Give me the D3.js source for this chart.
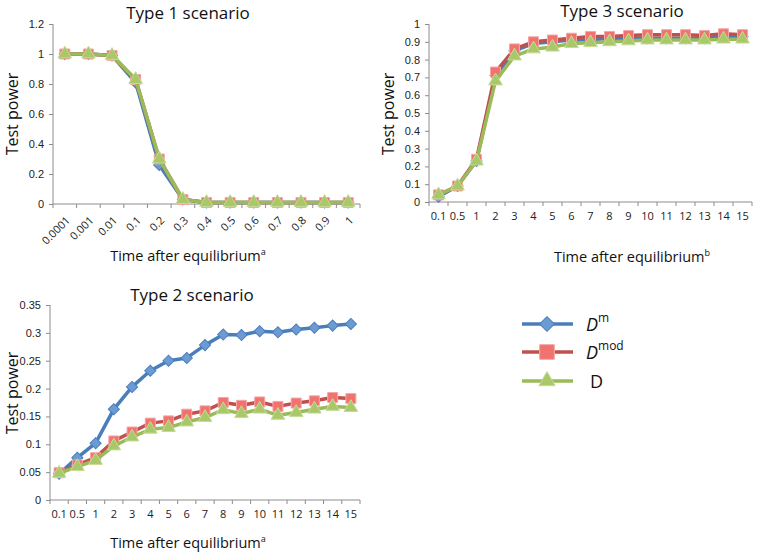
<!DOCTYPE html>
<html><head><meta charset="utf-8">
<script src="https://cdn.jsdelivr.net/npm/d3@7"></script>
<style>body{margin:0;background:#fff}svg{display:block;font-family:"Open Sans",sans-serif}</style>
</head><body><svg id="c" width="757" height="553"></svg>
<script>
const cats1 = ["0.0001","0.001","0.01","0.1","0.2","0.3","0.4","0.5","0.6","0.7","0.8","0.9","1"];
const t1Dm   = [1,1,0.99,0.81,0.26,0.03,0.01,0.01,0.01,0.01,0.01,0.01,0.01];
const t1Dmod = [1,1,0.99,0.83,0.30,0.03,0.01,0.01,0.01,0.01,0.01,0.01,0.01];
const t1D    = [1,1,0.99,0.83,0.30,0.03,0.01,0.01,0.01,0.01,0.01,0.01,0.01];
const yTicks1 = [0,0.2,0.4,0.6,0.8,1,1.2];

const cats23 = ["0.1","0.5","1","2","3","4","5","6","7","8","9","10","11","12","13","14","15"];
const t3Dm   = [0.03,0.09,0.23,0.71,0.85,0.89,0.90,0.91,0.91,0.92,0.92,0.92,0.92,0.92,0.92,0.93,0.93];
const t3Dmod = [0.04,0.09,0.24,0.73,0.86,0.90,0.91,0.92,0.93,0.93,0.935,0.94,0.94,0.94,0.935,0.945,0.94];
const t3D    = [0.04,0.09,0.23,0.68,0.82,0.86,0.87,0.89,0.895,0.90,0.905,0.91,0.91,0.91,0.91,0.915,0.915];
const yTicks3 = [0,0.1,0.2,0.3,0.4,0.5,0.6,0.7,0.8,0.9,1];

const t2Dm   = [0.047,0.076,0.102,0.163,0.203,0.232,0.250,0.255,0.278,0.297,0.296,0.303,0.301,0.306,0.309,0.313,0.316];
const t2Dmod = [0.049,0.063,0.076,0.106,0.122,0.138,0.142,0.154,0.160,0.175,0.170,0.176,0.168,0.174,0.178,0.184,0.182];
const t2D    = [0.048,0.060,0.071,0.097,0.113,0.127,0.130,0.140,0.148,0.162,0.155,0.163,0.152,0.157,0.163,0.168,0.166];
const yTicks2 = [0,0.05,0.1,0.15,0.2,0.25,0.3,0.35];

const seriesNames = ["Dm","Dmod","D"];
const svg = d3.select("#c");

const style = {
  Dm:   {line:"#4a7ebb", fill:"#6b9bd2", stroke:"#4a7ebb", shape:d3.symbolSquare, rot:45, size:62, leg:110},
  Dmod: {line:"#c0504d", fill:"#f0736f", stroke:"#f4a7a5", shape:d3.symbolSquare, rot:0, size:100, leg:215},
  D:    {line:"#9bbb59", fill:"#a9c86a", stroke:"#c6da96", shape:d3.symbolTriangle, rot:0, size:80, leg:115}
};

function panel(o){
  const g = svg.append("g");
  const x = d3.scaleBand().domain(o.cats).range([o.x0,o.x1]);
  const y = d3.scaleLinear().domain([0,o.ymax]).range([o.y0,o.y1]);
  const ya = g.append("g").attr("transform",`translate(${o.x0},0)`)
    .call(d3.axisLeft(y).tickValues(o.yTicks).tickSize(4).tickPadding(5).tickFormat(d=>String(+d.toFixed(2))));
  ya.select(".domain").attr("stroke","#8c8c8c").attr("d",`M-0,${o.y0}V${o.y1}`);
  ya.selectAll(".tick line").attr("stroke","#8c8c8c");
  ya.selectAll("text").attr("font-size",11).attr("fill","#222");
  const xa = g.append("g").attr("transform",`translate(0,${o.y0})`);
  xa.append("line").attr("x1",o.x0).attr("x2",o.x1).attr("stroke","#8c8c8c");
  const bounds = o.cats.map((c,i)=>x(c)).concat([o.x1]);
  xa.selectAll("line.t").data(bounds).join("line").attr("class","t")
    .attr("x1",d=>d).attr("x2",d=>d).attr("y1",0).attr("y2",4).attr("stroke","#8c8c8c");
  const lab = xa.selectAll("text.l").data(o.cats).join("text").attr("class","l")
    .attr("font-size",11).attr("fill","#222").text(d=>d);
  if(o.rotate){
    lab.attr("text-anchor","end")
      .attr("transform",d=>`translate(${x(d)+x.bandwidth()/2+6},${17}) rotate(-45)`);
  } else {
    lab.attr("text-anchor","middle").attr("x",d=>x(d)+x.bandwidth()/2).attr("y",18);
  }
  const data = {Dm:o.Dm, Dmod:o.Dmod, D:o.D};
  const line = d3.line().x((d,i)=>x(o.cats[i])+x.bandwidth()/2).y(d=>y(d));
  seriesNames.forEach(s=>{
    const st = style[s];
    g.append("path").datum(data[s]).attr("d",line).attr("fill","none")
      .attr("stroke",st.line).attr("stroke-width",3.5).attr("stroke-linejoin","round");
    const sym = d3.symbol().type(st.shape).size(st.size);
    g.selectAll(null).data(data[s]).join("path")
      .attr("transform",(d,i)=>`translate(${x(o.cats[i])+x.bandwidth()/2},${y(d)}) rotate(${st.rot})`)
      .attr("d",sym).attr("fill",st.fill).attr("stroke",st.stroke).attr("stroke-width",1);
  });
  g.append("text").attr("x",o.tx).attr("y",o.ty).attr("text-anchor","middle")
    .attr("font-size",17).attr("fill","#111").text(o.title);
  g.append("text").attr("transform",`translate(${o.ylx},${o.yly}) rotate(-90)`)
    .attr("text-anchor","middle").attr("font-size",16).attr("fill","#111").text("Test power");
  const xl = g.append("text").attr("x",o.xlx).attr("y",o.xly).attr("text-anchor","middle")
    .attr("font-size",14.5).attr("fill","#111");
  xl.append("tspan").text("Time after equilibrium");
  xl.append("tspan").attr("dy",-6).attr("font-size",9).text(o.sup);
}

panel({cats:cats1, Dm:t1Dm, Dmod:t1Dmod, D:t1D, yTicks:yTicks1, ymax:1.2,
  x0:53, x1:360, y0:204, y1:24, rotate:true, title:"Type 1 scenario", tx:188, ty:19,
  ylx:18, yly:114, xlx:188, xly:261, sup:"a"});
panel({cats:cats23, Dm:t3Dm, Dmod:t3Dmod, D:t3D, yTicks:yTicks3, ymax:1,
  x0:429, x1:752, y0:202, y1:24, rotate:false, title:"Type 3 scenario", tx:622, ty:17,
  ylx:394, yly:114, xlx:632, xly:262, sup:"b"});
panel({cats:cats23, Dm:t2Dm, Dmod:t2Dmod, D:t2D, yTicks:yTicks2, ymax:0.35,
  x0:50, x1:360, y0:500, y1:305, rotate:false, title:"Type 2 scenario", tx:192, ty:301,
  ylx:18, yly:393, xlx:188, xly:548, sup:"a"});

const legItems = [
  {s:"Dm", base:"D", sup:"m", italic:true, y:324},
  {s:"Dmod", base:"D", sup:"mod", italic:true, y:352},
  {s:"D", base:"D", sup:"", italic:false, y:381}
];
const lg = svg.append("g");
legItems.forEach(it=>{
  const st = style[it.s];
  lg.append("line").attr("x1",522).attr("x2",573).attr("y1",it.y).attr("y2",it.y)
    .attr("stroke",st.line).attr("stroke-width",3.5);
  lg.append("path").attr("transform",`translate(547,${it.y}) rotate(${st.rot})`)
    .attr("d",d3.symbol().type(st.shape).size(st.leg)).attr("fill",st.fill).attr("stroke",st.stroke);
  const t = lg.append("text").attr("x",it.italic?586:590).attr("y",it.y+7).attr("font-size",18).attr("fill","#111");
  t.append("tspan").attr("font-style",it.italic?"italic":"normal").text(it.base);
  if(it.sup) t.append("tspan").attr("dy",-9).attr("font-size",12).text(it.sup);
});
</script></body></html>
